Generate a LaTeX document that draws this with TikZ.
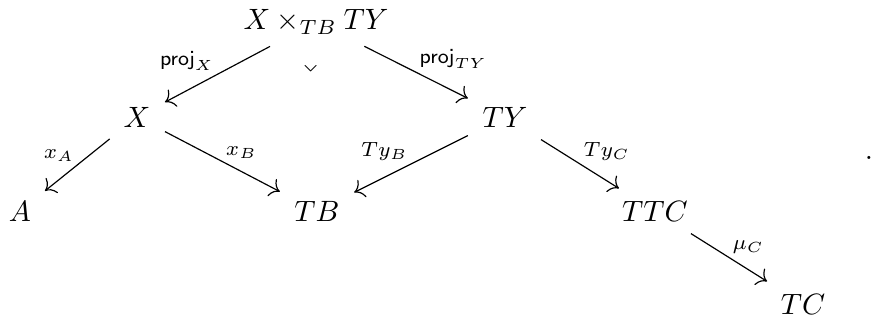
\documentclass[tikz,border=0pt]{standalone}
\usepackage{amssymb}
\usetikzlibrary{arrows.meta}

\begin{document}
\begin{tikzpicture}[
x=0.34pt, y=-0.34pt,
obj/.style={inner sep=3pt, font=\normalsize},
lbl/.style={inner sep=1pt},
arrow/.style={-{Computer Modern Rightarrow[length=1.1mm]}, thin, shorten <=2pt, shorten >=2pt}
]
\useasboundingbox (0,0) rectangle (874,320);
% objects
\node[obj] (P) at (316,22) {$X \times_{TB} TY$};
\node[obj] (X) at (137,117) {$X$};
\node[obj] (TY) at (505,117) {$TY$};
\node[obj] (A) at (20,211) {$A$};
\node[obj] (TB) at (317,211) {$TB$};
\node[obj] (TTC) at (655,211) {$TTC$};
\node[obj] (TC) at (803,304) {$TC$};
\node[inner sep=0pt] (dot) at (869,158) {$.$};
% pullback corner
\node[rotate=-45, inner sep=0pt, font=\scriptsize] (pb) at (311,66) {$\lrcorner$};
% arrows
\draw[arrow] (P) -- (X) node[lbl, pos=0.5, above left=0pt] {$\scriptstyle\mathsf{proj}_X$};
\draw[arrow] (P) -- (TY) node[lbl, pos=0.5, above right=0pt] {$\scriptstyle\mathsf{proj}_{TY}$};
\draw[arrow] (X) -- (A) node[lbl, pos=0.5, above left=0pt] {$\scriptstyle x_A$};
\draw[arrow] (X) -- (TB) node[lbl, pos=0.5, above right=0pt] {$\scriptstyle x_B$};
\draw[arrow] (TY) -- (TB) node[lbl, pos=0.5, above left=0pt] {$\scriptstyle Ty_B$};
\draw[arrow] (TY) -- (TTC) node[lbl, pos=0.5, above right=0pt] {$\scriptstyle Ty_C$};
\draw[arrow] (TTC) -- (TC) node[lbl, pos=0.5, above right=0pt] {$\scriptstyle \mu_C$};
\end{tikzpicture}
\end{document}
